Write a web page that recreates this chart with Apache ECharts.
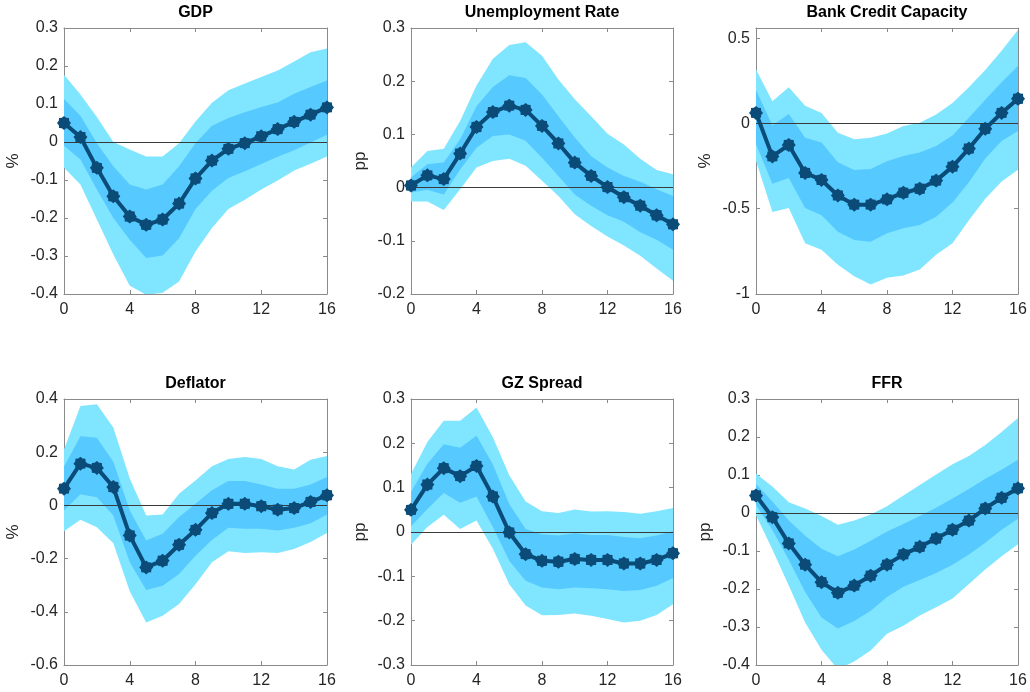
<!DOCTYPE html>
<html>
<head>
<meta charset="utf-8">
<script src="https://cdn.jsdelivr.net/npm/echarts@6/dist/echarts.min.js"></script>
<style>
  html, body { margin: 0; background: #fff; }
  #chart { width: 1030px; height: 692px; }
</style>
</head>
<body>
<div id="chart"></div>
<script>
// horizon (quarters)
const horizon = ['0', '1', '2', '3', '4', '5', '6', '7', '8', '9', '10', '11', '12', '13', '14', '15', '16'];

// GDP
const gdpMed  = [0.050, 0.013, -0.068, -0.143, -0.196, -0.218, -0.204, -0.162, -0.096, -0.049, -0.018, -0.003, 0.015, 0.034, 0.053, 0.072, 0.091];
const gdpHi90 = [0.177, 0.125, 0.066, 0.000, -0.020, -0.038, -0.038, -0.003, 0.054, 0.103, 0.136, 0.154, 0.171, 0.188, 0.212, 0.236, 0.246];
const gdpHi68 = [0.113, 0.069, -0.003, -0.064, -0.112, -0.125, -0.112, -0.064, -0.003, 0.043, 0.063, 0.078, 0.092, 0.104, 0.127, 0.145, 0.162];
const gdpLo68 = [-0.010, -0.046, -0.125, -0.200, -0.257, -0.305, -0.299, -0.253, -0.176, -0.128, -0.095, -0.077, -0.058, -0.039, -0.022, -0.001, 0.019];
const gdpLo90 = [-0.068, -0.112, -0.204, -0.296, -0.378, -0.402, -0.397, -0.367, -0.288, -0.226, -0.176, -0.152, -0.125, -0.101, -0.075, -0.057, -0.038];

// Unemployment rate
const unMed  = [0.004, 0.023, 0.016, 0.064, 0.114, 0.142, 0.154, 0.146, 0.116, 0.083, 0.047, 0.022, 0.001, -0.018, -0.034, -0.052, -0.069];
const unHi90 = [0.038, 0.069, 0.073, 0.125, 0.192, 0.242, 0.268, 0.273, 0.248, 0.203, 0.166, 0.134, 0.101, 0.081, 0.054, 0.033, 0.025];
const unHi68 = [0.019, 0.044, 0.047, 0.091, 0.153, 0.189, 0.211, 0.206, 0.175, 0.134, 0.094, 0.059, 0.038, 0.022, 0.011, -0.003, -0.016];
const unLo68 = [-0.009, -0.004, -0.013, 0.034, 0.075, 0.097, 0.100, 0.088, 0.056, 0.022, -0.013, -0.034, -0.052, -0.064, -0.084, -0.098, -0.117];
const unLo90 = [-0.026, -0.026, -0.042, -0.003, 0.038, 0.050, 0.054, 0.041, 0.013, -0.016, -0.050, -0.072, -0.092, -0.109, -0.128, -0.152, -0.175];

// Bank credit capacity
const bccMed  = [0.062, -0.193, -0.126, -0.290, -0.331, -0.422, -0.476, -0.476, -0.445, -0.406, -0.383, -0.335, -0.253, -0.147, -0.031, 0.062, 0.145];
const bccHi90 = [0.317, 0.130, 0.213, 0.104, 0.062, -0.054, -0.093, -0.083, -0.058, -0.015, 0.004, 0.052, 0.120, 0.213, 0.313, 0.426, 0.550];
const bccHi68 = [0.197, -0.012, 0.056, -0.083, -0.112, -0.228, -0.273, -0.267, -0.222, -0.190, -0.170, -0.132, -0.070, 0.033, 0.139, 0.242, 0.337];
const bccLo68 = [-0.122, -0.354, -0.319, -0.495, -0.538, -0.635, -0.683, -0.693, -0.644, -0.615, -0.596, -0.547, -0.464, -0.344, -0.205, -0.103, -0.044];
const bccLo90 = [-0.219, -0.519, -0.495, -0.702, -0.741, -0.828, -0.896, -0.944, -0.905, -0.892, -0.857, -0.770, -0.702, -0.567, -0.441, -0.340, -0.271];

// Deflator
const defMed  = [0.063, 0.157, 0.141, 0.069, -0.113, -0.233, -0.208, -0.148, -0.092, -0.029, 0.006, 0.006, -0.003, -0.016, -0.010, 0.013, 0.038];
const defHi90 = [0.210, 0.374, 0.380, 0.293, 0.101, -0.038, -0.034, 0.044, 0.094, 0.147, 0.174, 0.182, 0.174, 0.147, 0.135, 0.172, 0.186];
const defHi68 = [0.145, 0.260, 0.254, 0.164, -0.019, -0.132, -0.107, -0.044, 0.006, 0.057, 0.092, 0.092, 0.079, 0.063, 0.063, 0.079, 0.107];
const defLo68 = [-0.019, 0.042, 0.031, -0.038, -0.214, -0.318, -0.302, -0.258, -0.189, -0.130, -0.084, -0.088, -0.088, -0.094, -0.084, -0.067, -0.034];
const defLo90 = [-0.097, -0.054, -0.082, -0.142, -0.323, -0.440, -0.415, -0.371, -0.296, -0.214, -0.172, -0.179, -0.176, -0.179, -0.164, -0.138, -0.104];

// GZ spread
const gzMed  = [0.050, 0.107, 0.144, 0.126, 0.149, 0.080, -0.001, -0.050, -0.065, -0.067, -0.061, -0.063, -0.063, -0.071, -0.071, -0.063, -0.048];
const gzHi90 = [0.131, 0.203, 0.251, 0.251, 0.281, 0.214, 0.128, 0.069, 0.047, 0.043, 0.051, 0.046, 0.047, 0.045, 0.041, 0.047, 0.054];
const gzHi68 = [0.090, 0.154, 0.198, 0.190, 0.217, 0.152, 0.063, 0.007, -0.005, -0.008, -0.003, -0.007, -0.007, -0.011, -0.014, -0.008, 0.002];
const gzLo68 = [0.013, 0.052, 0.088, 0.066, 0.080, 0.011, -0.065, -0.110, -0.125, -0.129, -0.125, -0.127, -0.129, -0.133, -0.131, -0.121, -0.104];
const gzLo90 = [-0.029, 0.011, 0.039, 0.007, 0.026, -0.038, -0.118, -0.166, -0.188, -0.187, -0.184, -0.189, -0.196, -0.204, -0.200, -0.187, -0.163];

// FFR
const ffrMed  = [0.046, -0.011, -0.080, -0.136, -0.182, -0.210, -0.191, -0.165, -0.136, -0.109, -0.089, -0.067, -0.044, -0.020, 0.012, 0.040, 0.065];
const ffrHi90 = [0.103, 0.070, 0.028, 0.012, -0.008, -0.031, -0.020, -0.004, 0.018, 0.046, 0.074, 0.101, 0.128, 0.150, 0.179, 0.213, 0.250];
const ffrHi68 = [0.076, 0.030, -0.020, -0.060, -0.094, -0.114, -0.096, -0.073, -0.049, -0.029, -0.008, 0.014, 0.038, 0.063, 0.090, 0.114, 0.140];
const ffrLo68 = [0.021, -0.045, -0.123, -0.208, -0.275, -0.304, -0.284, -0.257, -0.221, -0.194, -0.176, -0.158, -0.136, -0.109, -0.078, -0.044, -0.015];
const ffrLo90 = [-0.006, -0.096, -0.191, -0.288, -0.360, -0.411, -0.391, -0.362, -0.318, -0.297, -0.270, -0.248, -0.225, -0.187, -0.149, -0.114, -0.082];

const panels = [
  { title: 'GDP', unit: '%', med: gdpMed, hi90: gdpHi90, hi68: gdpHi68, lo68: gdpLo68, lo90: gdpLo90, min: -0.4, max: 0.3, step: 0.1 },
  { title: 'Unemployment Rate', unit: 'pp', med: unMed, hi90: unHi90, hi68: unHi68, lo68: unLo68, lo90: unLo90, min: -0.2, max: 0.3, step: 0.1 },
  { title: 'Bank Credit Capacity', unit: '%', med: bccMed, hi90: bccHi90, hi68: bccHi68, lo68: bccLo68, lo90: bccLo90, min: -1, max: 0.56, step: 0.5 },
  { title: 'Deflator', unit: '%', med: defMed, hi90: defHi90, hi68: defHi68, lo68: defLo68, lo90: defLo90, min: -0.6, max: 0.4, step: 0.2 },
  { title: 'GZ Spread', unit: 'pp', med: gzMed, hi90: gzHi90, hi68: gzHi68, lo68: gzLo68, lo90: gzLo90, min: -0.3, max: 0.3, step: 0.1 },
  { title: 'FFR', unit: 'pp', med: ffrMed, hi90: ffrHi90, hi68: ffrHi68, lo68: ffrLo68, lo90: ffrLo90, min: -0.4, max: 0.3, step: 0.1 }
];

const colLeft = [64, 411, 756];
const colWidth = [263, 262, 262];
const rowTop = [28, 399];
const plotH = 266;

const outerColor = '#80E5FF';
const innerColor = '#56C9FF';
const lineColor = '#0A4B77';
const boxColor = '#8a8a8a';
const font = 'Liberation Sans, Arial, Helvetica, sans-serif';

// asterisk-ish blob for the markers
function starSymbol() {
  let d = '';
  for (let k = 0; k < 16; k++) {
    const a = k * Math.PI / 8;
    const r = k % 2 ? 0.8 : 1;
    d += (k ? 'L' : 'M') + (50 + 50 * r * Math.cos(a)).toFixed(2) + ',' + (50 + 50 * r * Math.sin(a)).toFixed(2);
  }
  return 'path://' + d + 'Z';
}
const marker = starSymbol();

const diffs = (hi, lo) => hi.map((v, i) => +(v - lo[i]).toFixed(4));
const everyFourth = (idx) => idx % 4 === 0;

const grid = [], xAxis = [], yAxis = [], series = [];

panels.forEach((p, i) => {
  const c = i % 3, r = Math.floor(i / 3);
  grid.push({ left: colLeft[c], top: rowTop[r], width: colWidth[c], height: plotH, containLabel: false });

  const xBase = {
    gridIndex: i, type: 'category', data: horizon, boundaryGap: false,
    axisLine: { show: true, onZero: false, lineStyle: { color: boxColor, width: 1 } },
    axisTick: { show: true, inside: true, length: 4, interval: everyFourth, lineStyle: { color: boxColor } },
    splitLine: { show: false }
  };
  // bottom axis
  xAxis.push(Object.assign({}, xBase, {
    position: 'bottom',
    axisLabel: { color: '#262626', fontSize: 16, fontFamily: font, margin: 8, interval: everyFourth }
  }));
  // top axis (box edge + title)
  xAxis.push(Object.assign({}, xBase, {
    position: 'top',
    axisLabel: { show: false },
    name: p.title, nameLocation: 'middle', nameGap: 7,
    nameTextStyle: { fontSize: 16, fontWeight: 'bold', color: '#000', fontFamily: font }
  }));

  const yBase = {
    gridIndex: i, type: 'value', min: p.min, max: p.max, interval: p.step,
    axisLine: { show: true, onZero: false, lineStyle: { color: boxColor, width: 1 } },
    axisTick: { show: true, inside: true, length: 4, lineStyle: { color: boxColor } },
    splitLine: { show: false }
  };
  yAxis.push(Object.assign({}, yBase, {
    position: 'left',
    name: p.unit, nameLocation: 'middle', nameGap: 42, nameRotate: 90,
    nameTextStyle: { fontSize: 17, color: '#262626', fontFamily: font },
    axisLabel: { color: '#262626', fontSize: 16, fontFamily: font, margin: 6, showMaxLabel: i !== 2 }
  }));
  yAxis.push(Object.assign({}, yBase, {
    position: 'right',
    axisLabel: { show: false }
  }));

  const xi = i * 2, yi = i * 2;
  const hidden = { symbol: 'none', lineStyle: { opacity: 0, width: 0 }, silent: true };

  // outer (90%) band
  series.push(Object.assign({ type: 'line', xAxisIndex: xi, yAxisIndex: yi, stack: 'o' + i, stackStrategy: 'all', z: 1, data: p.lo90 }, hidden));
  series.push(Object.assign({ type: 'line', xAxisIndex: xi, yAxisIndex: yi, stack: 'o' + i, stackStrategy: 'all', z: 1, data: diffs(p.hi90, p.lo90),
    areaStyle: { color: outerColor, opacity: 1 } }, hidden));
  // inner (68%) band
  series.push(Object.assign({ type: 'line', xAxisIndex: xi, yAxisIndex: yi, stack: 'i' + i, stackStrategy: 'all', z: 2, data: p.lo68 }, hidden));
  series.push(Object.assign({ type: 'line', xAxisIndex: xi, yAxisIndex: yi, stack: 'i' + i, stackStrategy: 'all', z: 2, data: diffs(p.hi68, p.lo68),
    areaStyle: { color: innerColor, opacity: 1 },
    markLine: { silent: true, symbol: 'none', label: { show: false },
      lineStyle: { color: '#3a3a3a', width: 1, type: 'solid' }, data: [{ yAxis: 0 }] }
  }, hidden));
  // median response
  series.push({
    type: 'line', xAxisIndex: xi, yAxisIndex: yi, data: p.med, z: 5,
    symbol: marker, symbolSize: 14, showAllSymbol: true,
    lineStyle: { color: lineColor, width: 4 },
    itemStyle: { color: lineColor },
    silent: true
  });
});

const chart = echarts.init(document.getElementById('chart'));
chart.setOption({
  backgroundColor: '#fff',
  animation: false,
  grid: grid,
  xAxis: xAxis,
  yAxis: yAxis,
  series: series
});
</script>
</body>
</html>
